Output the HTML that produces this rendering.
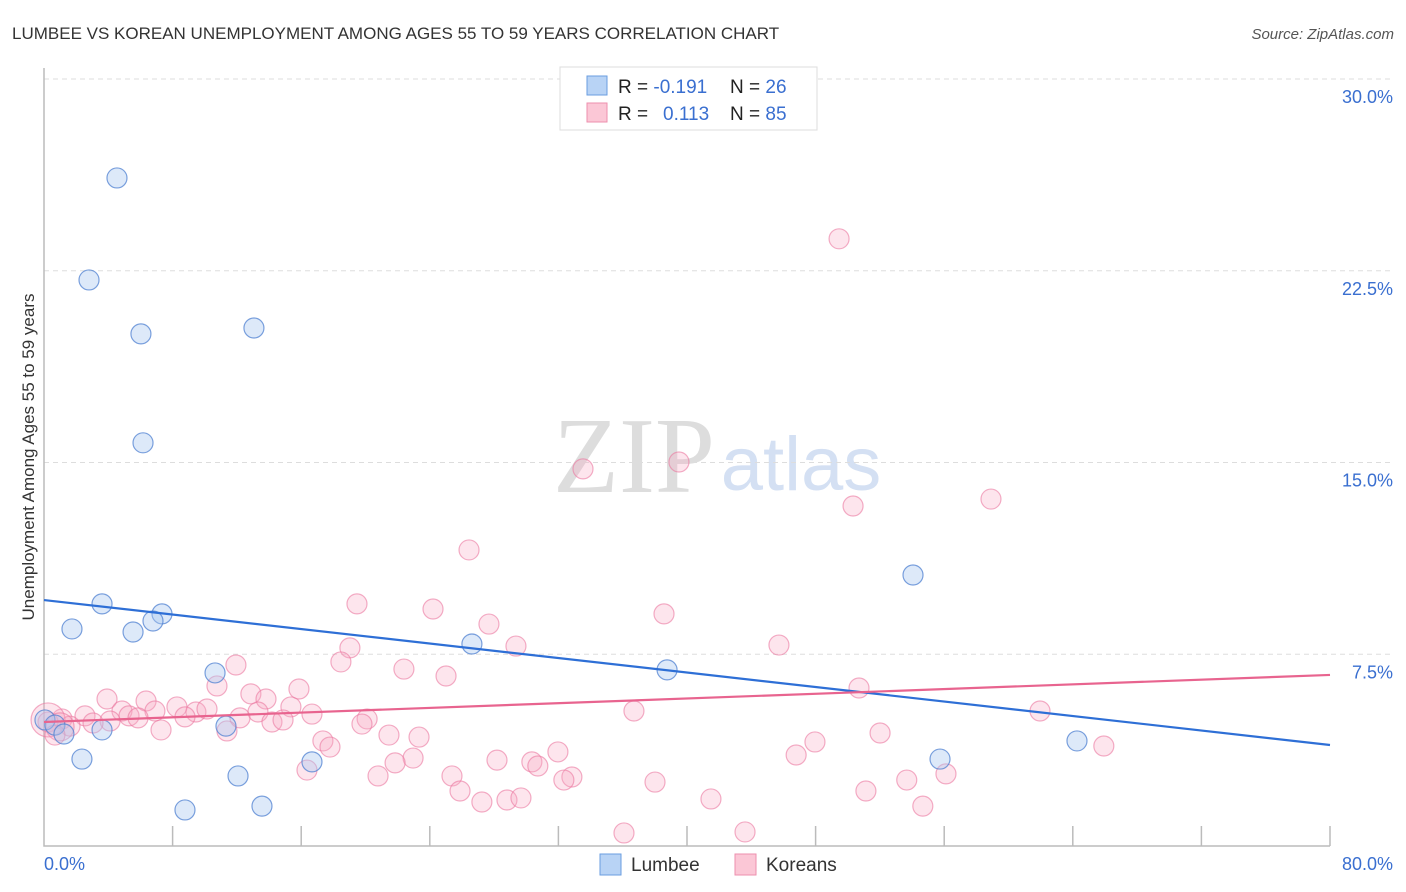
<!DOCTYPE html>
<html><head><meta charset="utf-8"><style>
body{margin:0;background:#fff;font-family:"Liberation Sans",sans-serif}
</style></head><body>
<svg id="c" width="1406" height="892" style="display:block">
<text x="12" y="39" font-size="17" fill="#333">LUMBEE VS KOREAN UNEMPLOYMENT AMONG AGES 55 TO 59 YEARS CORRELATION CHART</text>
<text x="1394" y="39" font-size="15" fill="#555" font-style="italic" text-anchor="end">Source: ZipAtlas.com</text>
<g>
<text x="634" y="492" font-size="108" fill="#ddd" font-family="Liberation Serif,serif" text-anchor="middle">ZIP</text>
<text x="801" y="490" font-size="76" fill="#d4e0f3" text-anchor="middle">atlas</text>
</g>
<text transform="translate(34,457) rotate(-90)" font-size="17" fill="#333" text-anchor="middle">Unemployment Among Ages 55 to 59 years</text>
<g id="grid"></g><g id="pts"></g><g id="trend"></g>
<g>
<rect x="560" y="67" width="257" height="63" fill="#fff" stroke="#ddd"/>
<rect x="587" y="76" width="20" height="19" fill="#b8d3f5" stroke="#6a9ee0"/>
<rect x="587" y="103" width="20" height="19" fill="#fbc7d6" stroke="#ee8fae"/>
<text x="618" y="93" font-size="19" fill="#222">R = <tspan fill="#3a6fd0">-0.191</tspan><tspan x="730">N = </tspan><tspan fill="#3a6fd0">26</tspan></text>
<text x="618" y="120" font-size="19" fill="#222">R = <tspan x="663" fill="#3a6fd0">0.113</tspan><tspan x="730">N = </tspan><tspan fill="#3a6fd0">85</tspan></text>
</g>
<g>
<rect x="600" y="854" width="21" height="21" fill="#b8d3f5" stroke="#6a9ee0"/>
<text x="631" y="871" font-size="19" fill="#333">Lumbee</text>
<rect x="735" y="854" width="21" height="21" fill="#fbc7d6" stroke="#ee8fae"/>
<text x="766" y="871" font-size="19" fill="#333">Koreans</text>
</g>
</svg>
<script>
const yTicks=[7.5,15,22.5,30];
const yTickLabels=["7.5%","15.0%","22.5%","30.0%"];
const xTickLabels=["0.0%","80.0%"];
const lumbeeX=[4.54,2.80,6.03,13.06,6.16,3.61,1.74,5.54,7.34,6.78,26.62,38.76,54.06,10.64,11.32,0.06,0.68,1.24,3.61,2.36,12.07,16.67,8.77,13.56,55.74,64.26];
const lumbeeY=[26.13,22.14,20.03,20.26,15.77,9.47,8.49,8.37,9.08,8.80,7.90,6.89,10.60,6.77,4.69,4.93,4.73,4.38,4.54,3.40,2.74,3.29,1.41,1.56,3.40,4.11];
const koreaX=[49.46,33.53,39.50,50.33,58.91,26.44,19.47,24.20,38.57,27.68,19.03,29.36,45.72,18.47,11.94,22.39,25.01,10.76,15.86,50.70,3.92,12.87,13.81,6.35,8.27,15.36,61.96,36.70,4.85,6.90,9.45,10.14,13.31,16.67,12.19,8.77,5.29,2.55,1.12,4.11,5.85,0.25,1.62,3.05,14.18,14.87,20.10,19.78,7.28,11.38,21.46,23.33,52.01,17.35,17.79,47.96,65.93,31.97,46.79,28.18,22.96,21.84,30.35,30.72,16.36,20.78,25.38,32.84,32.34,38.01,53.67,56.11,25.88,51.13,27.24,28.80,29.67,41.49,54.67,36.08,43.61,0.25,1.0,0.68];
const koreaY=[23.75,14.75,15.02,13.30,13.57,11.58,9.47,9.27,9.08,8.68,7.75,7.82,7.86,7.20,7.08,6.92,6.65,6.26,6.14,6.18,5.75,5.95,5.75,5.67,5.44,5.44,5.28,5.28,5.28,5.28,5.24,5.36,5.24,5.16,5.01,5.05,5.09,5.09,4.97,4.89,5.01,4.85,4.69,4.81,4.85,4.93,4.97,4.77,4.54,4.50,4.34,4.26,4.42,4.11,3.87,4.07,3.91,3.68,3.56,3.36,3.44,3.25,3.29,3.13,2.97,2.74,2.74,2.70,2.58,2.50,2.58,2.82,2.15,2.15,1.72,1.80,1.88,1.84,1.56,0.51,0.55,4.93,4.66,4.34];
const koreaR=[];for(let i=0;i<koreaX.length;i++)koreaR.push(10);koreaR[81]=17;koreaR[82]=14;
const lumbeeTrend=[9.62,3.95];
const koreaTrend=[4.85,6.69];
const X=v=>44+v/80*1286, Y=v=>846-v/30*767;
const NS='http://www.w3.org/2000/svg';
function mk(p,t,a){const e=document.createElementNS(NS,t);for(const k in a)e.setAttribute(k,a[k]);p.appendChild(e);return e;}
const svg=document.getElementById('c'),g=document.getElementById('grid');
yTicks.forEach((t,i)=>{
 const l=mk(g,'line',{x1:44,x2:1394,y1:Y(t),y2:Y(t),stroke:'#ddd','stroke-dasharray':'5,4'});
 
 
 const tx=mk(g,'text',{x:1393,y:Y(t)+24,'font-size':18,fill:'#3a6fd0','text-anchor':'end'});
 tx.textContent=yTickLabels[i];
 
 
});
const ax=mk(g,'path',{d:'M44 68V846H1330',fill:'none',stroke:'#bbb','stroke-width':1.5});


for(let i=1;i<=10;i++){const t=mk(g,'line',{x1:X(i*8),x2:X(i*8),y1:826,y2:846,stroke:'#bbb','stroke-width':1.5});
 
 }
[[0,'start',44],[80,'end',1393]].forEach((d,i)=>{const t=mk(g,'text',{x:d[2],y:870,'font-size':18,fill:'#3a6fd0','text-anchor':d[1]});t.textContent=xTickLabels[i];
 
 });
const pg=document.getElementById('pts');
koreaX.forEach((x,i)=>{const c=mk(pg,'circle',{cx:X(x),cy:Y(koreaY[i]),r:koreaR[i],fill:'rgba(248,170,195,0.3)',stroke:'rgba(235,120,160,0.6)','stroke-width':1.2});
 
 });
lumbeeX.forEach((x,i)=>{const c=mk(pg,'circle',{cx:X(x),cy:Y(lumbeeY[i]),r:10,fill:'rgba(170,200,240,0.4)',stroke:'rgba(80,130,210,0.75)','stroke-width':1.2});
 
 });
const tg=document.getElementById('trend');
const l1=mk(tg,'line',{x1:X(0),x2:X(80),y1:Y(lumbeeTrend[0]),y2:Y(lumbeeTrend[1]),stroke:'#2e6fd6','stroke-width':2.2});


const l2=mk(tg,'line',{x1:X(0),x2:X(80),y1:Y(koreaTrend[0]),y2:Y(koreaTrend[1]),stroke:'#e8648f','stroke-width':2.2});


</script>
</body></html>
